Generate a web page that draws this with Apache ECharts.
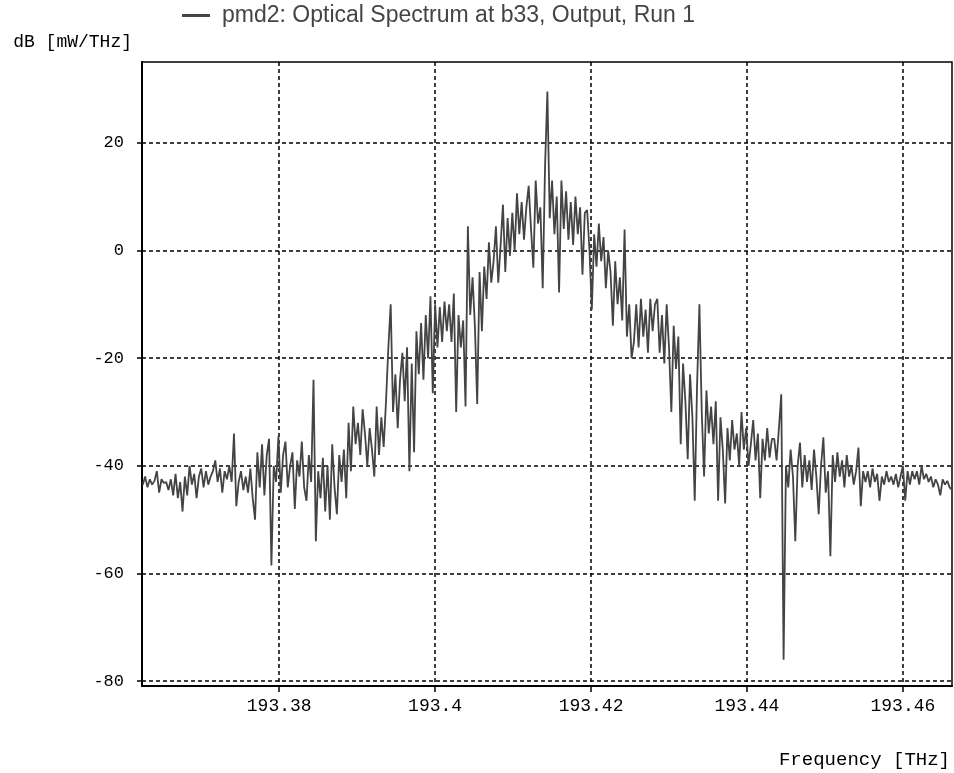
<!DOCTYPE html>
<html>
<head>
<meta charset="utf-8">
<script src="https://cdn.jsdelivr.net/npm/echarts@6/dist/echarts.min.js"></script>
<style>
html,body{margin:0;padding:0;background:#fff;}
#chart{width:954px;height:773px;}
</style>
</head>
<body>
<div id="chart"></div>
<script>
const seriesName = 'pmd2: Optical Spectrum at b33, Output, Run 1';
const freqStart = 193.3625;   // THz, first sample
const freqStep = 0.0003;      // THz, sample spacing
const spectrumDb = [
  -43.5,-42,-44,-42.5,-43.5,-42.8,-41,-45,-42.5,-43.2,
  -43,-44.5,-42.5,-45.5,-41.5,-46,-43,-48.5,-42,-45.5,
  -40,-43.5,-41.5,-46,-42,-40.5,-44,-41,-43.5,-42,
  -41,-39,-43,-40.5,-45,-41,-42.5,-40,-43,-34,
  -47.5,-43,-41,-44.5,-42,-45,-40.5,-46,-50,-37.5,
  -44,-36,-45.5,-38,-35,-58.5,-40,-43,-34.5,-45,
  -38,-35.5,-44,-40,-37.5,-48,-39,-42,-35.5,-44,
  -46.5,-38,-43,-24,-54,-41,-46,-38.5,-48.5,-40,
  -50,-36,-44,-49,-38,-43,-37,-46,-32,-41,
  -29,-36,-32,-38,-29.5,-34,-40,-33,-37,-42,
  -29,-38,-31,-36.5,-28,-18,-10,-30,-23,-33,
  -24,-19,-28,-18,-41,-21,-37.5,-15,-23,-13.5,
  -24,-12,-20,-8.5,-26.5,-10,-18,-10.5,-17,-9.5,
  -15,-10,-17,-8,-30,-12,-18,-13,-29,4.5,
  -12,-5,-14,-28.5,-4,-15,-3,-9,1.5,-6,
  -2,4.5,-6,1,8.5,-4,6,-1,7,0,
  10.6,3,9,2,8,12,4,-3.2,13,5,
  8,-7,15.6,29.5,6,13,3,10,-7.8,13,
  4,11,2,9,1,10,3,8,-4.5,7,
  7.5,0,-11,3,-3,5,-2,2.5,-7,0,
  -4,-14,-2,-10,-5,-13,3.9,-16,-10,-20,
  -17,-10,-18,-9,-16,-11,-19,-9,-15,-10,
  -9,-19,-12,-21,-10,-18,-30,-14,-22,-16,
  -36,-21,-28,-38.8,-23,-31,-46.5,-25,-10,-30,
  -42,-26,-34,-29,-36,-28,-46.5,-31,-37,-47,
  -33,-39,-31.5,-37,-34,-40,-30,-37,-33,-40,
  -36,-31.5,-39,-34,-46,-35,-39,-33,-38.5,-35,
  -35,-39,-33,-26.7,-76,-40,-44,-37,-42,-54,
  -40,-35.7,-44,-38,-43,-39,-44.5,-37,-42,-49,
  -40,-34.7,-45,-41,-56.8,-38,-43,-37.5,-42,-39,
  -44,-38,-42,-40,-43.5,-41,-36.6,-47.5,-41,-43,
  -41,-44,-40.5,-43,-41.5,-46.5,-42,-43.5,-41,-43,
  -42,-43.5,-41.5,-44,-42,-40,-46.5,-41,-43.5,-41,
  -42.5,-41,-43.5,-40,-42.5,-41.5,-43,-42,-44,-42.5,
  -43.5,-45.5,-42.5,-43.5,-42.8,-44,-44.5
];
const xTicks = [193.38, 193.40, 193.42, 193.44, 193.46];
const yTicks = [-80, -60, -40, -20, 0, 20];
const xRange = [193.3624, 193.4663];
const yRange = [-80.9, 35];

const points = spectrumDb.map((v, i) => [freqStart + i * freqStep, v]);

const monoFont = "'Liberation Mono', 'DejaVu Sans Mono', monospace";
const gridDash = {color: '#000', width: 1.5, type: [4, 3]};

const chart = echarts.init(document.getElementById('chart'), null, {renderer: 'canvas'});
chart.setOption({
  animation: false,
  backgroundColor: '#fff',
  legend: {
    data: [seriesName],
    left: 177,
    top: -1,
    icon: 'rect',
    itemWidth: 28,
    itemHeight: 3,
    itemGap: 10,
    textStyle: {fontFamily: "'Liberation Sans', Arial, sans-serif", fontSize: 23, color: '#444', padding: [0, 0, 0, 7]}
  },
  grid: {
    left: 142, right: 2, top: 62, bottom: 87,
    show: true, borderColor: '#000', borderWidth: 1.5, backgroundColor: 'transparent'
  },
  xAxis: {
    type: 'value',
    min: xRange[0], max: xRange[1],
    name: 'Frequency [THz]',
    nameLocation: 'end',
    nameGap: -2,
    nameTextStyle: {fontFamily: monoFont, fontSize: 19, color: '#000', align: 'right', verticalAlign: 'top', padding: [64, 0, 0, 0]},
    axisLine: {show: true, onZero: false, lineStyle: {color: '#000', width: 2}},
    axisTick: {show: true, inside: false, length: 6, customValues: xTicks, lineStyle: {color: '#000', width: 1.5}},
    axisLabel: {customValues: xTicks, margin: 11, fontFamily: monoFont, fontSize: 18, color: '#000',
      formatter: v => String(Number(v.toFixed(2)))},
    splitLine: {show: true, lineStyle: gridDash}
  },
  yAxis: {
    type: 'value',
    min: yRange[0], max: yRange[1],
    name: 'dB [mW/THz]',
    nameLocation: 'end',
    nameGap: 11,
    nameTextStyle: {fontFamily: monoFont, fontSize: 18, color: '#000', align: 'right', padding: [0, 10, 0, 0]},
    axisLine: {show: true, onZero: false, lineStyle: {color: '#000', width: 2}},
    axisTick: {show: true, inside: false, length: 5, customValues: yTicks, lineStyle: {color: '#000', width: 1.5}},
    axisLabel: {customValues: yTicks, margin: 18, fontFamily: monoFont, fontSize: 17, color: '#000'},
    splitLine: {show: true, lineStyle: gridDash}
  },
  series: [{
    name: seriesName,
    type: 'line',
    data: points,
    showSymbol: false,
    symbol: 'none',
    color: '#444',
    lineStyle: {color: '#444', width: 1.8},
    clip: true
  }]
});
</script>
</body>
</html>
